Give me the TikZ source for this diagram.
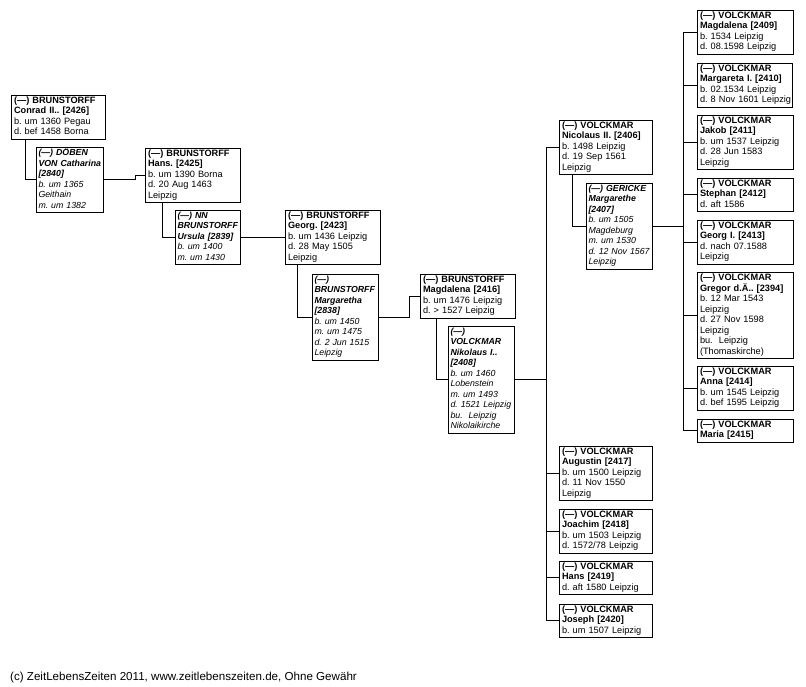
\documentclass[tikz,border=0pt]{standalone}
\usepackage{fontspec}
\setmainfont{Liberation Sans}
\frenchspacing
\newcommand\pbx[1]{\begin{tabular}{@{}l@{}}#1\end{tabular}}
\newcommand\nmB[1]{\textbf{#1}}
\newcommand\nmBI[1]{\textbf{\textit{#1}}}
\newcommand\nmI[1]{\textit{#1}}
\begin{document}
\begin{tikzpicture}[x=1pt,y=-1pt,
  pb/.style={draw, line width=0.8pt, anchor=north west, outer sep=0pt,
    inner xsep=3pt, inner ysep=1pt, align=left,
    font=\fontsize{9.2}{10.5}\selectfont\frenchspacing},
  bx/.style={pb, text width=#1},
  sp/.style={pb, text width=#1, inner xsep=2.5pt, font=\fontsize{8.8}{10.5}\selectfont\frenchspacing},
  ln/.style={line width=0.8pt}]
\fill[white] (0,0) rectangle (806,686);
\useasboundingbox (0,0) rectangle (806,686);

% generation 1
\node[bx=88pt] (A) at (11,95) {\pbx{\nmB{(---) BRUNSTORFF}\\ \nmB{Conrad II.. [2426]}\\ b. um 1360 Pegau\\ d. bef 1458 Borna}};
\node[sp=62pt] (B) at (36,147) {\pbx{\nmBI{(---) DÖBEN}\\ \nmBI{VON Catharina}\\ \nmBI{[2840]}\\ \nmI{b. um 1365}\\ \nmI{Geithain}\\ \nmI{m. um 1382}}};
% generation 2
\node[bx=89pt] (C) at (145,148) {\pbx{\nmB{(---) BRUNSTORFF}\\ \nmB{Hans. [2425]}\\ b. um 1390 Borna\\ d. 20 Aug 1463\\ Leipzig}};
\node[sp=60pt] (D) at (175,210) {\pbx{\nmBI{(---) NN}\\ \nmBI{BRUNSTORFF}\\ \nmBI{Ursula [2839]}\\ \nmI{b. um 1400}\\ \nmI{m. um 1430}}};
% generation 3
\node[bx=89pt] (E) at (285,210) {\pbx{\nmB{(---) BRUNSTORFF}\\ \nmB{Georg. [2423]}\\ b. um 1436 Leipzig\\ d. 28 May 1505\\ Leipzig}};
\node[sp=61pt] (F) at (312,274) {\pbx{\nmBI{(---)}\\ \nmBI{BRUNSTORFF}\\ \nmBI{Margaretha}\\ \nmBI{[2838]}\\ \nmI{b. um 1450}\\ \nmI{m. um 1475}\\ \nmI{d. 2 Jun 1515}\\ \nmI{Leipzig}}};
% generation 4
\node[bx=89pt] (G) at (420,274) {\pbx{\nmB{(---) BRUNSTORFF}\\ \nmB{Magdalena [2416]}\\ b. um 1476 Leipzig\\ d. > 1527 Leipzig}};
\node[sp=61pt] (H) at (448,326) {\pbx{\nmBI{(---)}\\ \nmBI{VOLCKMAR}\\ \nmBI{Nikolaus I..}\\ \nmBI{[2408]}\\ \nmI{b. um 1460}\\ \nmI{Lobenstein}\\ \nmI{m. um 1493}\\ \nmI{d. 1521 Leipzig}\\ \nmI{bu.\ \ Leipzig}\\ \nmI{Nikolaikirche}}};
% generation 5
\node[bx=87pt] (I) at (559,120) {\pbx{\nmB{(---) VOLCKMAR}\\ \nmB{Nicolaus II. [2406]}\\ b. 1498 Leipzig\\ d. 19 Sep 1561\\ Leipzig}};
\node[sp=61pt] (J) at (586,183) {\pbx{\nmBI{(---) GERICKE}\\ \nmBI{Margarethe}\\ \nmBI{[2407]}\\ \nmI{b. um 1505}\\ \nmI{Magdeburg}\\ \nmI{m. um 1530}\\ \nmI{d. 12 Nov 1567}\\ \nmI{Leipzig}}};
\node[bx=87pt] (S) at (559,446) {\pbx{\nmB{(---) VOLCKMAR}\\ \nmB{Augustin [2417]}\\ b. um 1500 Leipzig\\ d. 11 Nov 1550\\ Leipzig}};
\node[bx=87pt] (T) at (559,509) {\pbx{\nmB{(---) VOLCKMAR}\\ \nmB{Joachim [2418]}\\ b. um 1503 Leipzig\\ d. 1572/78 Leipzig}};
\node[bx=87pt] (U) at (559,561) {\pbx{\nmB{(---) VOLCKMAR}\\ \nmB{Hans [2419]}\\ d. aft 1580 Leipzig}};
\node[bx=87pt] (V) at (559,604) {\pbx{\nmB{(---) VOLCKMAR}\\ \nmB{Joseph [2420]}\\ b. um 1507 Leipzig}};
% generation 6
\node[bx=90pt] (K) at (697,10) {\pbx{\nmB{(---) VOLCKMAR}\\ \nmB{Magdalena [2409]}\\ b. 1534 Leipzig\\ d. 08.1598 Leipzig}};
\node[bx=89pt] (L) at (697,63) {\pbx{\nmB{(---) VOLCKMAR}\\ \nmB{Margareta I. [2410]}\\ b. 02.1534 Leipzig\\ d. 8 Nov 1601 Leipzig}};
\node[bx=90pt] (M) at (697,115) {\pbx{\nmB{(---) VOLCKMAR}\\ \nmB{Jakob [2411]}\\ b. um 1537 Leipzig\\ d. 28 Jun 1583\\ Leipzig}};
\node[bx=90pt] (N) at (697,178) {\pbx{\nmB{(---) VOLCKMAR}\\ \nmB{Stephan [2412]}\\ d. aft 1586}};
\node[bx=90pt] (O) at (697,220) {\pbx{\nmB{(---) VOLCKMAR}\\ \nmB{Georg I. [2413]}\\ d. nach 07.1588\\ Leipzig}};
\node[bx=90pt] (P) at (697,272) {\pbx{\nmB{(---) VOLCKMAR}\\ \nmB{Gregor d.Ä.. [2394]}\\ b. 12 Mar 1543\\ Leipzig\\ d. 27 Nov 1598\\ Leipzig\\ bu.\ \ Leipzig\\ (Thomaskirche)}};
\node[bx=90pt] (Q) at (697,366) {\pbx{\nmB{(---) VOLCKMAR}\\ \nmB{Anna [2414]}\\ b. um 1545 Leipzig\\ d. bef 1595 Leipzig}};
\node[bx=90pt] (R) at (697,419) {\pbx{\nmB{(---) VOLCKMAR}\\ \nmB{Maria [2415]}}};

% couples and descents
\draw[ln] ([xshift=14pt]A.south west) |- (B.west);
\draw[ln] (B.east) -| ([xshift=-10pt]C.west) -- (C.west);
\draw[ln] ([xshift=17pt]C.south west) |- (D.west);
\draw[ln] (D.east) -| ([xshift=-12pt]E.west) -- (E.west);
\draw[ln] ([xshift=12pt]E.south west) |- (F.west);
\draw[ln] (F.east) -| ([xshift=-11pt]G.west) -- (G.west);
\draw[ln] ([xshift=16pt]G.south west) |- (H.west);
\coordinate (busL) at (546,0);
\coordinate (busR) at (683,0);
\draw[ln] (H.east) -- (H.east -| busL);
\draw[ln] (I.west -| busL) -- (V.west -| busL);
\foreach \n in {I,S,T,U,V} \draw[ln] (\n.west -| busL) -- (\n.west);
\draw[ln] ([xshift=13pt]I.south west) |- (J.west);
\draw[ln] (J.east) -- (J.east -| busR);
\draw[ln] (K.west -| busR) -- (R.west -| busR);
\foreach \n in {K,L,M,N,O,P,Q,R} \draw[ln] (\n.west -| busR) -- (\n.west);

\node[anchor=base west, inner sep=0pt, font=\fontsize{11.6}{13}\selectfont\frenchspacing] (foot) at (10,680) {(c) ZeitLebensZeiten 2011, www.zeitlebenszeiten.de, Ohne Gewähr};
\end{tikzpicture}
\end{document}
